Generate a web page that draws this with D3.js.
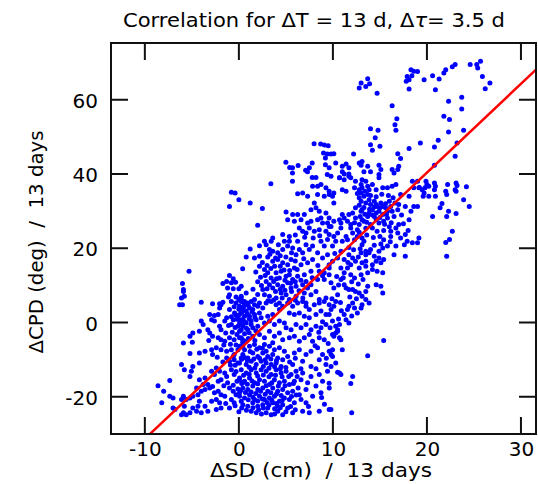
<!DOCTYPE html>
<html>
<head>
<meta charset="utf-8">
<script src="https://cdn.jsdelivr.net/npm/d3@7"></script>
<style>
  body { margin: 0; background: #fff; }
  svg { display: block; }
  text { font-family: "DejaVu Sans", "Liberation Sans", Arial, sans-serif; fill: #000; }
</style>
</head>
<body>
<svg id="chart" width="538" height="484"></svg>
<script>
// Axis ticks and ranges
const xTicks = [-10, 0, 10, 20, 30];
const yTicks = [-20, 0, 20, 40, 60];
const xDomain = [-13.6, 31.6];
const yDomain = [-30, 75.3];

// Least-squares fit drawn over the scatter
const fitSlope = 2.39;
const fitIntercept = -7.4;

// [ΔSD (cm), ΔCPD (deg)] pairs over 13-day windows
const samples = [
  // high values
  [25.7,70.4],[25.3,69.5],[25.4,68.6],[24.6,69.5],[23.0,69.5],[22.7,68.9],[22.0,68.1],[21.8,67.2],[20.6,66.5],[21.3,65.6],
  [19.7,65.4],[18.3,68.1],[18.6,67.7],[19.0,67.6],[17.9,66.3],[18.1,65.4],[17.8,65.0],[18.4,66.5],[18.1,62.9],[25.9,66.3],
  [26.7,64.5],[26.2,63.0],[20.9,62.7],[22.3,59.6],[23.7,60.7],[23.7,57.5],[21.8,55.6],[22.4,54.7],[13.7,65.7],[13.0,64.5],
  [13.9,64.3],[12.8,63.2],[13.5,63.6],[14.7,61.8],[16.3,58.4],
  [16.8,54.9],[16.6,53.3],[16.7,51.8],[14.0,52.2],[14.8,51.8],[14.5,49.8],[14.0,47.9],[15.0,47.5],[14.2,46.4],[16.9,45.5],
  [17.2,44.2],[22.3,51.3],[23.9,51.8],[23.2,48.4],[21.2,49.1],[20.8,47.3],[19.3,48.4],[18.1,46.9],[23.0,44.8],[20.8,42.4],
  [8.0,48.2],[8.7,48.1],[9.1,47.8],[9.5,47.6],[9.0,45.7],[9.4,45.4],[9.8,45.4],[10.1,45.5],[9.2,44.3],[9.2,42.5],
  [7.8,43.0],[7.5,41.7],[7.3,40.6],[7.8,39.1],[8.2,39.1],[9.6,41.7],[10.3,43.0],[11.0,42.1],[11.4,42.7],[11.7,41.7],
  [11.0,40.6],[11.2,40.0],[11.7,40.0],[11.9,39.0],[10.7,39.0],[12.8,43.0],[13.1,43.4],[13.0,42.4],[13.7,42.1],[13.3,40.6],
  [14.0,40.6],[14.9,42.4],[15.1,41.2],[14.9,39.9],[16.3,41.2],[16.5,40.3],[16.9,41.2],[17.0,42.1],[12.2,45.4],[6.3,42.3],
  [5.7,41.7],[5.4,41.8],[5.0,43.2],[5.7,40.3],[5.7,38.1],[3.4,37.4],[7.1,41.0],[9.4,39.9],
  // left outliers
  [-0.8,35.1],[-0.4,34.9],[0.0,33.1],[-1.0,31.3],[1.2,32.2],[2.5,30.7],[2.0,26.2],[1.2,19.8],[0.4,14.5],[-5.3,13.8],
  [-6.0,10.5],[-5.9,8.9],[-5.9,8.4],[-5.8,7.1],[-6.1,6.6],[-6.3,4.8],[-6.0,4.8],
  [-1.0,12.7],[-0.6,11.8],[-1.3,11.1],[-1.7,10.5],[-0.8,10.7],[-0.35,10.9],[0.0,9.1],[-1.2,9.3],[-0.6,9.1],[0.25,9.8],
  [-1.0,7.5],[-1.1,6.9],[-0.3,6.9],[0.0,6.2],[0.25,7.1],[-1.7,5.5],[-2.05,5.1],[-2.8,5.1],[-4.0,5.5],[0.4,5.7],
  // negative ΔSD, low ΔCPD
  [-1.9,4.8],[-2.05,3.9],[-0.8,5.7],[-0.3,5.3],[0.07,4.4],[-1.0,3.5],[-0.46,2.6],[-0.1,1.7],[0.25,3.1],[0.42,0.8],
  [-3.1,2.2],[-2.6,1.9],[-2.2,2.2],[-2.9,0.8],[-2.6,0.4],[-1.3,1.3],[-0.6,0.8],[0.07,-0.1],[-4.0,0.4],[-3.8,-0.5],
  [-4.2,-2.3],[-3.3,-1.9],[-3.1,-2.8],[-2.05,-1.0],[-1.9,-1.9],[-0.8,-0.5],[-0.1,-1.0],[0.25,-1.9],[-4.9,-2.8],[-5.2,-3.7],
  [-2.8,-3.7],[-2.2,-4.1],[-1.9,-4.6],[-1.5,-5.0],[-1.0,-4.1],[-0.5,-4.6],[0.07,-4.1],[0.4,-4.6],[-5.9,-5.5],[-4.95,-5.3],
  [-3.2,-4.8],[-3.6,-7.7],[-2.9,-7.3],[-2.4,-6.8],[-1.9,-7.3],[-1.3,-7.7],[-0.8,-7.3],[-0.5,-8.6],[-0.1,-7.3],[0.4,-6.4],
  [-5.2,-8.3],[-4.2,-8.2],[-2.8,-8.6],[-1.3,-9.5],[-1.0,-10.4],[-0.5,-10.0],[-0.1,-10.9],[0.25,-9.5],[-6.1,-11.3],[-5.8,-12.7],
  [-5.05,-13.1],[-4.9,-11.8],[-5.2,-14.5],[-4.2,-10.9],[-7.35,-15.6],[-8.6,-17.0],[-8.0,-18.5],[-7.35,-19.8],[-7.0,-20.3],[-8.2,-21.6],
  [-7.0,-23.0],[-6.8,-23.4],[-6.1,-20.7],[-5.9,-19.8],[-5.6,-20.7],[-5.2,-20.3],[-4.9,-19.8],[-5.8,-22.5],[-5.9,-24.3],[-6.1,-24.8],
  [-5.6,-24.8],[-5.2,-24.3],[-4.9,-23.0],[-4.35,-22.5],[-4.2,-21.2],[-4.35,-19.4],[-4.0,-18.5],[-3.6,-18.0],[-3.8,-16.7],[-3.3,-16.7],
  [-3.1,-17.6],[-2.8,-17.2],[-4.2,-15.4],[-3.6,-14.9],[-4.5,-17.6],[-2.6,-18.9],[-2.2,-18.5],[-1.9,-19.4],[-1.5,-19.8],[-2.4,-20.7],
  [-2.05,-21.6],[-1.9,-23.0],[-2.4,-23.4],[-3.3,-23.9],[-4.0,-24.3],[-4.5,-23.9],[-3.6,-22.5],[-2.9,-21.2],[-1.9,-15.4],[-2.2,-15.8],
  [-1.2,-16.2],[-1.0,-17.6],[-0.6,-18.5],[-0.3,-19.4],[0.07,-18.9],[-0.8,-20.7],[-1.0,-23.0],[-0.5,-21.6],[0.25,-21.2],[-2.4,-12.2],
  [-2.05,-13.1],[-1.5,-13.6],[-0.8,-12.7],[-0.5,-14.0],[0.07,-14.9],[0.4,-16.2],[-2.9,-13.1],[-2.6,-14.0],
  [-0.5,4.3],[0.0,3.6],[0.5,4.2],[1.0,4.6],[-0.3,2.0],[0.3,2.7],[0.9,2.4],[1.4,2.9],[-0.8,1.6],[-0.2,0.9],
  [0.6,0.2],[1.1,1.0],[1.7,1.4],[-1.5,0.4],[-1.1,-0.8],[-0.4,-1.3],[0.3,-0.6],[0.8,-1.5],[1.3,-0.5],[-1.4,-2.8],
  [-0.7,-2.6],[-0.2,-3.2],[0.6,-3.0],[1.1,-2.7],[1.8,-2.2],[-1.6,-6.0],[-0.9,-5.8],[-0.3,-6.0],[0.4,-5.4],[1.0,-4.3],
  [1.7,-4.8],[-2.3,-9.3],[-1.7,-10.6],[-0.6,-9.1],[0.6,-9.4],[1.2,-7.8],[1.9,-7.2],[2.5,-6.9],[2.9,-7.7],[3.6,-5.4],
  // central band
  [7.84,36.7],[8.37,36.7],[8.73,37.2],[9.26,36.3],[6.78,34.9],[6.25,34.7],[7.31,34.0],[8.37,34.5],[9.08,34.0],[9.61,34.5],
  [9.96,34.0],[5.02,29.8],[5.72,29.1],[6.25,29.1],[6.96,29.1],[8.02,32.2],[8.2,30.9],[7.67,30.4],[8.55,30.0],[9.26,29.5],
  [5.19,27.7],[5.9,27.3],[6.61,27.7],[7.31,26.8],[7.67,27.3],[8.37,27.7],[8.73,28.2],[8.9,26.8],[9.43,26.8],[9.61,25.9],
  [4.66,23.7],[5.37,23.2],[6.43,25.5],[6.78,24.6],[7.49,25.5],[7.14,24.1],[8.02,24.6],[8.55,25.0],[9.26,24.6],[3.6,22.8],
  [3.43,21.9],[2.72,21.9],[2.19,20.7],[2.9,21.0],[1.66,17.4],[0.78,17.7],[4.84,21.9],[5.37,21.9],[5.19,20.6],[5.72,20.1],
  [6.25,21.9],[6.43,19.7],[7.14,21.0],[7.49,19.7],[7.84,20.6],[8.73,21.9],[9.08,20.6],[9.43,22.4],[8.37,18.8],[6.78,18.8],
  [6.08,18.3],[5.55,17.0],[4.66,19.7],[4.13,18.8],[3.6,19.2],[3.25,19.7],[3.07,17.7],[3.6,16.5],[4.13,17.0],[4.66,16.1],
  [5.19,15.6],[5.9,14.7],[6.61,15.6],[7.31,16.1],[7.84,17.0],[8.9,17.4],[9.43,18.3],[2.19,15.2],[2.72,14.3],[3.07,13.4],
  [3.43,12.0],[3.96,13.4],[4.49,13.8],[4.31,12.0],[5.02,12.5],[5.37,12.9],[5.72,11.6],[6.25,12.5],[6.96,12.9],[7.67,13.8],
  [8.55,13.8],[9.08,13.4],[9.61,14.7],[2.9,11.1],[3.25,10.2],[3.6,9.3],[4.13,10.2],[4.66,9.8],[5.19,10.7],[5.55,9.3],
  [6.08,9.8],[6.78,10.2],[7.14,11.1],[7.67,10.2],[8.37,11.6],[9.08,11.6],[2.54,8.9],[2.72,7.5],[3.25,7.1],[3.96,6.6],
  [4.49,8.0],[5.02,7.5],[5.37,6.2],[6.08,7.1],[6.96,8.0],[7.67,7.5],[8.2,8.4],[8.55,6.2],[9.26,6.6],[0.78,8.0],
  [0.25,6.6],[0.6,5.7],[1.66,6.2],[2.19,5.3],[4.31,5.3],[7.14,5.3],
  [2.4,10.0],[3.0,9.1],[3.9,8.4],[4.4,9.0],[4.9,8.7],[5.6,8.4],[6.4,8.6],[2.3,12.2],[2.8,12.7],[3.7,11.1],
  [4.0,11.8],[4.9,11.4],[5.5,10.6],[6.0,11.0],[6.6,11.4],[2.5,16.2],[3.0,15.4],[3.4,14.6],[3.8,15.2],[4.4,15.2],
  [4.8,14.2],[5.4,14.0],[6.2,14.3],[3.3,18.4],[3.9,17.4],[4.4,18.0],[5.0,17.7],[5.6,18.8],[6.0,16.6],[6.9,17.2],
  [2.2,17.9],[1.8,13.6],[2.0,11.0],[1.5,9.0],[2.0,7.6],[3.1,5.9],[3.7,6.1],[4.6,6.6],[5.4,5.6],[6.0,6.0],
  [6.8,6.6],[7.3,9.3],[7.8,12.1],[8.4,15.4],[8.9,12.6],[7.0,23.0],[6.0,23.6],[7.9,22.8],[8.6,23.4],[4.2,21.0],
  // positive ΔSD, low ΔCPD
  [0.25,5.7],[0.6,4.8],[0.95,5.3],[1.31,5.7],[0.42,3.5],[0.78,3.1],[1.13,3.9],[1.48,3.5],[1.66,4.8],[2.01,4.4],
  [0.07,2.2],[0.6,1.7],[1.13,1.7],[1.66,2.2],[2.19,2.6],[2.54,3.9],[2.9,5.3],[3.43,5.7],[3.96,4.8],[4.31,3.5],
  [4.66,4.4],[5.19,5.3],[5.72,4.4],[6.25,5.3],[6.78,5.7],[7.14,4.4],[7.49,3.5],[8.02,4.8],[8.55,5.3],[9.08,5.7],
  [9.61,4.8],[5.37,2.6],[5.9,2.2],[6.43,2.6],[6.96,1.7],[7.49,1.3],[8.2,2.2],[8.73,3.1],[9.26,2.2],[0.25,0.8],
  [0.78,-0.1],[1.31,0.4],[1.84,0.8],[2.37,1.3],[3.07,1.7],[3.6,2.2],
  [0.42,-1.0],[0.07,-2.3],[0.95,-1.9],[1.48,-1.4],[2.01,-1.0],[2.72,-0.1],[3.25,0.4],[3.78,-0.5],[4.31,0.4],[4.84,-0.1],
  [5.02,-1.4],[5.55,-1.9],[6.08,-0.5],[6.61,-1.4],[7.14,-0.5],[7.67,-1.9],[8.2,-1.0],[8.73,-1.4],[9.26,-0.5],[0.25,-4.1],
  [0.78,-5.0],[1.48,-3.7],[2.19,-3.2],[2.72,-4.1],[3.25,-2.3],[3.78,-3.7],[4.31,-2.8],[4.66,-4.6],[5.37,-4.1],[5.9,-3.7],
  [6.43,-5.0],[6.96,-4.1],[7.49,-3.2],[7.84,-5.0],[8.55,-4.1],[9.08,-4.6],
  [0.07,-6.4],[0.6,-7.3],[1.13,-6.4],[1.66,-5.9],[2.19,-6.8],[2.72,-5.9],[3.25,-6.4],[3.78,-7.3],[4.31,-6.8],[4.84,-7.7],
  [0.42,-8.6],[0.95,-9.5],[1.48,-8.2],[2.01,-9.1],[2.54,-8.2],[3.07,-9.1],[3.6,-8.6],[4.13,-9.5],[4.66,-10.0],[5.19,-9.1],
  [5.9,-8.2],[6.43,-7.3],[7.14,-8.6],[7.67,-7.7],[8.37,-6.8],[8.9,-8.6],[9.61,-7.7],[0.07,-10.9],[0.78,-11.3],[1.31,-10.4],
  [1.84,-11.3],[2.37,-10.4],[2.9,-10.9],[3.43,-11.3],[3.96,-10.9],[4.49,-11.8],[5.72,-11.3],[6.78,-10.4],[7.67,-11.8],[8.55,-10.0],
  [9.26,-11.3],
  [0.25,-12.7],[0.78,-13.6],[1.31,-12.7],[1.84,-13.6],[2.37,-12.7],[2.9,-13.1],[3.43,-14.0],[3.96,-12.7],[4.49,-13.6],[5.02,-13.1],
  [5.55,-14.0],[6.08,-13.1],[6.78,-13.6],[7.67,-14.5],[8.55,-14.0],[9.43,-13.1],[0.07,-15.4],[0.6,-15.8],[1.13,-14.9],[1.66,-16.2],
  [2.19,-15.4],[2.72,-15.8],[3.25,-16.7],[3.78,-15.4],[4.31,-16.2],[4.84,-15.8],[5.37,-16.7],[5.9,-15.8],[6.61,-15.4],[7.31,-16.2],
  [8.2,-17.1],[8.9,-15.8],[0.42,-17.6],[0.95,-18.0],[1.48,-17.1],[2.01,-18.0],[2.54,-17.6],[3.07,-18.5],[3.6,-17.6],[4.13,-18.5],
  [4.66,-18.0],[5.19,-18.9],[5.72,-18.5],[6.43,-19.4],[7.14,-18.0],[7.84,-19.8],[8.73,-18.9],[9.61,-17.6],
  [0.07,-19.8],[0.6,-20.3],[1.13,-19.4],[1.66,-20.7],[2.19,-19.8],[2.72,-20.7],[3.25,-20.3],[3.78,-19.8],[4.31,-21.2],[4.84,-20.3],
  [5.37,-20.7],[5.9,-21.6],[6.61,-20.7],[7.14,-21.6],[0.42,-22.1],[0.95,-22.5],[1.48,-21.6],[2.01,-22.5],[2.54,-22.1],[3.07,-23.0],
  [3.6,-21.6],[4.13,-22.5],[4.66,-22.1],[5.19,-23.0],[1.31,-23.9],[1.84,-24.3],[2.9,-24.3],[3.43,-24.8],[4.13,-23.9],[4.66,-24.8],
  [5.72,-24.3],[6.78,-23.9],[7.49,-24.3],[8.55,-23.9],[9.79,-23.4],
  [0.3,-9.9],[0.9,-10.2],[1.6,-9.8],[2.2,-9.6],[2.8,-10.0],[3.4,-9.8],[4.0,-10.2],[1.1,-12.0],[1.7,-12.2],[2.6,-11.8],
  [3.2,-12.3],[3.8,-11.9],[4.4,-12.5],[5.0,-12.1],[0.5,-14.2],[1.1,-13.9],[2.0,-14.4],[2.6,-14.1],[3.2,-14.6],[3.9,-14.2],
  [4.6,-14.6],[5.3,-14.5],[0.3,-16.4],[0.9,-16.6],[1.4,-15.7],[2.0,-16.5],[2.9,-17.0],[3.5,-16.2],[4.2,-17.1],[4.9,-17.0],
  [0.2,-18.3],[0.7,-18.8],[1.3,-18.7],[1.8,-19.1],[2.3,-18.5],[2.8,-19.3],[3.4,-18.9],[4.0,-19.2],[4.5,-19.6],[1.0,-20.8],
  [1.5,-20.1],[2.0,-21.1],[2.5,-20.6],[3.0,-21.5],[3.5,-20.9],[4.0,-21.8],[4.6,-21.0],[0.3,-23.0],[0.8,-23.6],[1.5,-22.9],
  [2.1,-23.5],[2.6,-23.0],[3.2,-22.2],[3.8,-23.2],[4.4,-22.9],[2.4,-24.6],[3.8,-24.6],[5.0,-24.0],[5.5,-22.6],[6.0,-23.5],
  [5.6,-19.9],[6.1,-19.5],[6.3,-17.6],[5.8,-16.4],[6.2,-14.5],[6.6,-12.4],[5.4,-10.6],[6.0,-9.6],[-0.4,-11.5],[-0.3,-13.2],
  [-0.2,-15.8],[-0.6,-16.9],[-0.1,-17.9],[-0.4,-22.4],[0.0,-24.0],[-1.4,-21.8],[-1.6,-17.0],[-1.3,-14.5],[-0.9,-11.4],
  // upper-middle cluster
  [9.8,39.4],[10.7,39.0],[11.2,38.5],[11.7,39.4],[9.6,35.4],[10.1,34.9],[11.0,35.8],[11.4,35.4],[12.3,36.3],[12.4,38.1],
  [13.1,38.5],[13.5,38.1],[13.0,37.2],[12.8,35.8],[13.1,36.3],[13.7,36.7],[13.85,35.8],[14.2,37.2],[14.6,35.8],[14.9,39.0],
  [15.3,36.3],[15.8,36.3],[16.3,36.7],[16.7,37.2],[17.2,34.5],[18.1,34.0],[18.6,36.3],[18.45,38.1],[19.0,38.1],[19.15,36.3],
  [10.1,32.2],[13.0,34.9],[12.8,33.6],[13.3,34.0],[13.7,34.5],[13.85,33.1],[13.0,32.7],[13.5,32.2],[14.0,31.8],[14.4,32.7],
  [14.6,31.8],[14.7,31.3],[14.2,30.4],[15.1,32.2],[15.3,31.3],[15.6,30.9],[15.8,30.0],[14.9,30.0],[15.3,29.1],[14.6,29.5],
  [14.4,28.6],[13.85,29.5],[13.7,28.6],[13.1,30.4],[13.0,30.0],[12.4,30.9],[12.1,29.5],[11.7,29.1],[13.1,27.7],[13.3,27.3],
  [12.8,26.4],[16.0,32.7],[16.15,31.3],[16.3,30.0],[15.8,28.2],[15.4,27.3],[14.9,26.8],[14.0,26.4],[14.2,25.5],[16.9,30.4],
  [17.0,31.8],[17.7,31.3],[18.6,31.3],[19.0,31.3],[18.3,30.0],[18.1,27.7],[17.0,26.4],[16.7,25.5],[16.15,24.6],[16.15,23.2],
  [15.4,22.3],[16.9,24.1],[17.2,22.8],[17.7,23.7],[17.9,21.9],[18.45,21.5],[19.15,22.8],[19.0,21.5],[17.6,21.0],[17.7,17.9],
  [16.7,20.6],[16.5,18.3],[15.8,20.6],[15.3,20.1],[14.9,19.2],[14.9,17.4],[15.1,16.1],[15.4,17.0],[14.6,16.5],[14.2,15.6],
  [14.2,14.3],[14.7,13.8],[15.3,13.4],[14.4,17.9],[13.85,18.8],[14.0,19.7],[13.5,19.2],[13.1,21.0],[13.0,18.8],[13.5,18.3],
  [13.5,16.5],[13.1,16.1],[12.8,14.7],[13.5,15.2],[13.7,13.4],[13.0,12.9],[12.4,16.5],[11.7,18.3],[12.1,17.4],[11.9,15.6],
  [11.55,14.7],[11.9,12.9],[12.3,12.0],[11.2,13.4],[10.85,14.7],[10.85,11.6],[11.2,10.2],[11.4,9.3],[11.7,8.9],[12.1,8.9],
  [12.4,8.4],[12.8,8.0],[13.1,7.1],[13.5,8.4],[13.7,9.8],[13.5,6.2],[13.85,5.3],[13.1,4.8],[13.0,3.9],[12.6,2.6],
  [12.3,3.9],[12.1,5.3],[11.7,4.4],[11.55,3.5],[11.2,2.2],[11.4,0.8],[11.7,-0.1],[10.7,-0.5],[10.3,-1.0],[10.5,-2.3],
  [9.96,0.4],[9.6,2.2],[9.8,3.5],[10.1,4.4],[10.3,5.7],[10.5,7.5],[10.1,9.3],[9.8,10.7],[9.6,12.9],[14.6,10.2],
  [15.1,9.8],[15.3,8.0],[9.6,28.2],[10.1,27.3],[10.7,27.7],[11.0,29.1],[11.2,28.2],[11.55,27.3],[11.9,26.4],[10.85,25.5],
  [10.5,24.1],[10.1,23.2],[9.6,23.7],[10.3,21.9],[9.96,20.6],[11.0,21.9],[11.4,23.2],[11.55,22.3],[12.1,24.1],[12.3,22.3],
  [12.6,23.2],[13.1,22.8],[13.3,21.9],[10.85,19.2],[10.5,17.4],[9.96,16.5],[9.6,15.6],[12.6,25.0],[11.9,25.5],[10.85,26.8],
  [9.8,25.9],
  [12.6,34.8],[13.4,35.4],[14.0,34.2],[14.6,33.9],[15.2,34.6],[15.9,34.2],[16.4,33.6],[12.8,31.6],[13.3,31.0],[13.9,30.5],
  [14.4,31.1],[15.0,30.9],[15.6,32.0],[16.6,32.2],[13.4,29.2],[14.2,29.0],[15.0,28.3],[15.7,29.2],[16.5,28.6],[17.3,29.0],
  [12.4,28.2],[12.9,28.6],[13.6,27.0],[14.6,27.8],[15.5,26.5],[16.2,26.9],[13.5,25.4],[14.7,24.6],[15.4,24.8],[16.0,25.8],
  [12.3,26.9],[12.8,24.3],[13.6,23.6],[14.3,22.9],[15.0,23.2],[14.4,20.8],[15.1,21.2],[16.1,21.8],[17.5,26.6],[18.0,24.8],
  [10.2,18.6],[11.2,17.0],[11.6,16.2],[12.7,17.7],[12.9,19.9],[11.7,20.2],[12.2,19.6],[10.4,12.4],[11.1,12.1],[12.0,11.0],
  [12.7,10.4],[13.2,11.6],[10.6,10.1],[11.8,6.9],[12.5,6.4],[10.8,5.4],[9.9,6.4],[10.9,3.2],[12.0,1.8],[9.7,-1.4],
  [10.6,1.0],[8.9,0.2],[8.5,-2.6],[9.5,-5.6],[8.1,-6.2],[9.3,-9.6],[8.2,-12.4],[8.8,-20.2],[7.4,-22.6],[9.1,-22.0],
  // right of the fit, below zero
  [9.96,-3.2],[10.3,-2.8],[10.1,-3.7],[10.5,-1.9],[10.85,-4.6],[10.7,-4.1],[15.4,-4.8],[11.0,-7.3],[9.96,-7.3],[9.8,-8.6],
  [9.96,-9.1],[13.7,-8.9],[10.3,-10.9],[9.8,-11.8],[10.5,-13.4],[10.7,-13.6],[10.85,-14.0],[12.1,-14.5],[11.9,-16.4],[9.6,-16.3],
  [9.6,-23.4],[12.0,-24.3],
  // large ΔSD group
  [19.9,38.1],[20.0,37.2],[19.8,36.3],[20.2,36.7],[20.8,37.6],[20.9,36.7],[20.8,35.8],[19.5,35.8],[19.7,34.9],[19.6,34.0],
  [20.2,34.0],[20.9,34.0],[19.2,36.4],[22.2,37.2],[22.0,35.4],[22.1,34.5],[23.1,37.6],[23.2,36.9],[23.0,35.8],[23.1,35.4],
  [24.2,36.6],[23.9,33.1],[24.5,31.3],[21.6,32.1],[21.4,30.9],[22.3,30.0],[23.1,29.4],[20.6,28.6],[22.1,28.6],[22.7,24.6],
  [22.4,22.4],[22.0,21.6],[22.1,17.9]
];

const svg = d3.select("#chart");
const plotLeft = 111, plotRight = 536, plotTop = 43, plotBottom = 434;

const x = d3.scaleLinear().domain(xDomain).range([plotLeft, plotRight]);
const y = d3.scaleLinear().domain(yDomain).range([plotBottom, plotTop]);

svg.append("rect").attr("width", 538).attr("height", 484).attr("fill", "#fff");

svg.append("defs").append("clipPath").attr("id", "plot-clip")
  .append("rect").attr("x", plotLeft).attr("y", plotTop)
  .attr("width", plotRight - plotLeft).attr("height", plotBottom - plotTop);

// Scatter points
svg.append("g")
  .selectAll("circle")
  .data(samples)
  .join("circle")
  .attr("cx", d => x(d[0]))
  .attr("cy", d => y(d[1]))
  .attr("r", 2.5)
  .attr("fill", "#0000ff");

// Fit line
svg.append("line")
  .attr("clip-path", "url(#plot-clip)")
  .attr("x1", x(xDomain[0])).attr("y1", y(fitSlope * xDomain[0] + fitIntercept))
  .attr("x2", x(xDomain[1])).attr("y2", y(fitSlope * xDomain[1] + fitIntercept))
  .attr("stroke", "#ff0000")
  .attr("stroke-width", 2.5);

// Frame and inward tick marks on all four sides, drawn as one path
const tickLen = 17;
const frameColor = "#111";
const framePath = d3.path();
framePath.rect(plotLeft, plotTop, plotRight - plotLeft, plotBottom - plotTop);
xTicks.forEach(v => {
  framePath.moveTo(x(v), plotBottom); framePath.lineTo(x(v), plotBottom - tickLen);
  framePath.moveTo(x(v), plotTop);    framePath.lineTo(x(v), plotTop + tickLen);
});
yTicks.forEach(v => {
  framePath.moveTo(plotLeft, y(v));  framePath.lineTo(plotLeft + tickLen, y(v));
  framePath.moveTo(plotRight, y(v)); framePath.lineTo(plotRight - tickLen, y(v));
});
svg.append("path")
  .attr("d", framePath.toString())
  .attr("fill", "none")
  .attr("stroke", frameColor)
  .attr("stroke-width", 2);

// Tick labels
const plainNumber = d => String(d);
function styleLabels(g) {
  g.select("path.domain").remove();
  g.selectAll(".tick line").remove();
  g.selectAll(".tick text")
    .attr("font-family", '"DejaVu Sans", "Liberation Sans", Arial, sans-serif')
    .attr("font-size", 20).attr("fill", "#000");
}
svg.append("g").attr("transform", `translate(0,${plotBottom})`)
  .call(d3.axisBottom(x).tickValues(xTicks).tickSize(0).tickPadding(8).tickFormat(plainNumber))
  .call(styleLabels);
svg.append("g").attr("transform", `translate(${plotLeft},0)`)
  .call(d3.axisLeft(y).tickValues(yTicks).tickSize(0).tickPadding(13).tickFormat(plainNumber))
  .call(styleLabels)
  .call(g => g.selectAll(".tick text").attr("dy", "0.38em"));

// Title
const title = svg.append("text")
  .attr("x", 314).attr("y", 27)
  .attr("text-anchor", "middle")
  .attr("font-size", 19)
  .attr("textLength", 382)
  .attr("lengthAdjust", "spacingAndGlyphs");
title.append("tspan").text("Correlation for ΔT = 13 d, Δ");
title.append("tspan").attr("font-style", "italic").text("τ");
title.append("tspan").text("= 3.5 d");

// Axis titles
svg.append("text")
  .attr("x", 321).attr("y", 477)
  .attr("text-anchor", "middle")
  .attr("font-size", 19)
  .attr("xml:space", "preserve")
  .attr("textLength", 222)
  .attr("lengthAdjust", "spacingAndGlyphs")
  .text("ΔSD (cm)  /  13 days");

svg.append("text")
  .attr("transform", "translate(43,242) rotate(-90)")
  .attr("text-anchor", "middle")
  .attr("font-size", 19)
  .attr("xml:space", "preserve")
  .attr("textLength", 223)
  .attr("lengthAdjust", "spacingAndGlyphs")
  .text("ΔCPD (deg)  /  13 days");
</script>
</body>
</html>
